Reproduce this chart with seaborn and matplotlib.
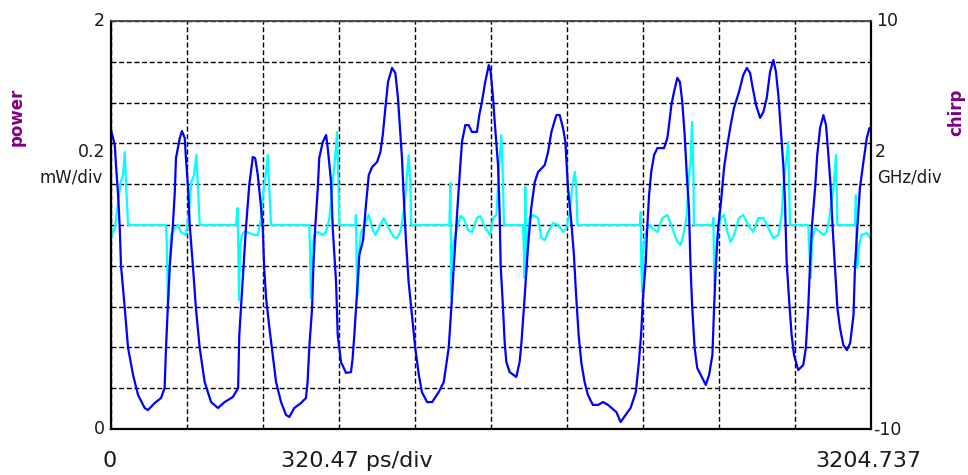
import matplotlib
matplotlib.use("Agg")
import matplotlib.pyplot as plt
import numpy as np
import seaborn as sns

# ---------------- data ----------------
t_power = [0, 16, 21, 30, 37, 42, 58, 72, 93, 114,
           142, 156, 184, 211, 226, 232, 240, 248, 261, 269,
           274, 290, 299, 311, 316, 325, 332, 346, 358, 374,
           395, 422, 451, 479, 514, 536, 541, 555, 569, 583,
           598, 608, 619, 633, 640, 646, 654, 668, 682, 696,
           717, 738, 752, 773, 801, 822, 829, 836, 848, 853,
           861, 872, 878, 893, 907, 914, 928, 935, 949, 956,
           970, 991, 1012, 1019, 1026, 1036, 1047, 1063, 1075, 1087,
           1101, 1122, 1136, 1146, 1157, 1168, 1185, 1199, 1210, 1227,
           1234, 1244, 1255, 1269, 1283, 1298, 1311, 1333, 1354, 1382,
           1403, 1424, 1435, 1445, 1459, 1473, 1480, 1494, 1508, 1522,
           1543, 1553, 1564, 1578, 1593, 1601, 1611, 1618, 1632, 1639,
           1643, 1653, 1660, 1667, 1681, 1709, 1723, 1730, 1744, 1758,
           1772, 1787, 1801, 1829, 1843, 1857, 1878, 1892, 1906, 1916,
           1927, 1941, 1952, 1962, 1972, 1983, 1997, 2011, 2032, 2054,
           2075, 2096, 2131, 2149, 2170, 2191, 2213, 2226, 2236, 2243,
           2255, 2261, 2269, 2278, 2290, 2304, 2332, 2346, 2353, 2363,
           2374, 2388, 2399, 2409, 2419, 2428, 2437, 2444, 2451, 2461,
           2472, 2487, 2508, 2522, 2536, 2543, 2550, 2560, 2571, 2585,
           2599, 2613, 2627, 2648, 2666, 2681, 2695, 2706, 2720, 2737,
           2751, 2765, 2779, 2793, 2804, 2814, 2824, 2835, 2842, 2849,
           2860, 2870, 2880, 2898, 2919, 2930, 2940, 2947, 2955, 2969,
           2978, 2990, 3004, 3015, 3025, 3035, 3043, 3053, 3063, 3074,
           3088, 3103, 3117, 3131, 3137, 3147, 3158, 3175, 3187, 3198, 3204.7]

power_mw = [1.466, 1.392, 1.294, 1.147, 0.985, 0.804, 0.593, 0.397, 0.265, 0.167,
            0.103, 0.093, 0.127, 0.152, 0.201, 0.397, 0.608, 0.804, 1.000, 1.162,
            1.328, 1.426, 1.461, 1.426, 1.328, 1.181, 1.000, 0.789, 0.593, 0.397,
            0.230, 0.132, 0.103, 0.132, 0.157, 0.201, 0.461, 0.721, 0.985, 1.196,
            1.333, 1.328, 1.245, 1.083, 0.985, 0.789, 0.642, 0.495, 0.363, 0.230,
            0.132, 0.069, 0.059, 0.103, 0.127, 0.152, 0.230, 0.397, 0.593, 0.789,
            0.985, 1.181, 1.328, 1.407, 1.441, 1.377, 1.211, 0.985, 0.721, 0.461,
            0.328, 0.275, 0.279, 0.348, 0.461, 0.642, 0.853, 0.926, 1.098, 1.245,
            1.284, 1.309, 1.358, 1.441, 1.574, 1.701, 1.770, 1.745, 1.623, 1.328,
            1.147, 0.917, 0.721, 0.559, 0.397, 0.265, 0.181, 0.132, 0.132, 0.181,
            0.230, 0.397, 0.593, 0.789, 1.049, 1.294, 1.407, 1.490, 1.490, 1.456,
            1.456, 1.539, 1.603, 1.701, 1.784, 1.750, 1.623, 1.505, 1.294, 1.049,
            0.804, 0.593, 0.426, 0.328, 0.279, 0.255, 0.328, 0.412, 0.642, 0.887,
            1.083, 1.211, 1.260, 1.294, 1.358, 1.456, 1.539, 1.539, 1.475, 1.407,
            1.181, 1.015, 0.853, 0.642, 0.461, 0.328, 0.230, 0.167, 0.118, 0.118,
            0.132, 0.118, 0.083, 0.034, 0.069, 0.103, 0.181, 0.328, 0.475, 0.642,
            0.819, 0.985, 1.147, 1.260, 1.343, 1.377, 1.377, 1.426, 1.490, 1.588,
            1.652, 1.721, 1.701, 1.603, 1.441, 1.245, 1.083, 0.789, 0.593, 0.397,
            0.299, 0.265, 0.216, 0.265, 0.363, 0.593, 0.789, 0.985, 1.098, 1.279,
            1.392, 1.490, 1.574, 1.652, 1.735, 1.770, 1.745, 1.672, 1.588, 1.525,
            1.554, 1.623, 1.750, 1.809, 1.750, 1.637, 1.475, 1.294, 1.113, 0.819,
            0.623, 0.461, 0.363, 0.289, 0.314, 0.397, 0.593, 0.789, 0.985, 1.181,
            1.343, 1.475, 1.539, 1.490, 1.343, 1.181, 0.985, 0.789, 0.593, 0.495,
            0.412, 0.387, 0.422, 0.559, 0.789, 0.985, 1.181, 1.328, 1.426, 1.475, 1.475]

t_chirp = [0, 8, 16, 30, 41, 51, 58, 63, 67, 72,
           232, 236, 240, 248, 253, 269, 283, 295, 316, 325,
           332, 339, 350, 360, 367, 374, 527, 534, 540, 544,
           552, 562, 583, 604, 619, 633, 642, 654, 661, 668,
           675, 836, 839, 843, 851, 857, 872, 893, 907, 921,
           935, 946, 953, 959, 963, 1030, 1033, 1036, 1040, 1047,
           1054, 1068, 1087, 1101, 1115, 1129, 1150, 1171, 1192, 1206,
           1220, 1230, 1239, 1248, 1255, 1262, 1266, 1427, 1431, 1435,
           1438, 1445, 1459, 1473, 1487, 1505, 1522, 1543, 1557, 1578,
           1599, 1611, 1625, 1635, 1646, 1653, 1657, 1737, 1741, 1744,
           1747, 1750, 1755, 1765, 1779, 1801, 1815, 1829, 1843, 1864,
           1885, 1906, 1920, 1935, 1944, 1956, 1962, 1967, 2231, 2234,
           2236, 2240, 2245, 2255, 2269, 2283, 2304, 2325, 2346, 2367,
           2388, 2402, 2416, 2428, 2437, 2444, 2450, 2456, 2458, 2536,
           2540, 2543, 2546, 2552, 2560, 2571, 2585, 2599, 2613, 2627,
           2648, 2666, 2687, 2708, 2729, 2751, 2772, 2793, 2814, 2828,
           2835, 2846, 2856, 2863, 2940, 2945, 2951, 2955, 2969, 2990,
           3004, 3018, 3029, 3039, 3049, 3057, 3063, 3137, 3141, 3144,
           3147, 3155, 3165, 3187, 3201, 3204.7]

chirp_ghz = [-0.64, -0.34, -0.15, 1.13, 2.11, 2.45, 3.58, 2.11, 1.13, 0,
             0, -1.13, -3.92, -1.96, -0.49, -0.15, 0, -0.34, -0.49, 0.34,
             1.13, 2.11, 2.45, 3.43, 1.81, 0, 0, 0.83, -3.68, -1.13,
             -0.49, -0.34, -0.39, -0.49, -0.49, 0.34, 1.62, 2.60, 3.43, 1.62,
             0, 0, -1.13, -3.58, -1.13, -0.49, -0.34, -0.49, -0.34, 0.34,
             2.11, 3.43, 4.56, 2.11, 0, 0, 0.49, -2.11, -3.43, -1.13,
             -0.34, 0, 0.49, -0.15, -0.49, -0.15, 0.34, -0.15, -0.59, -0.64,
             -0.34, 0.34, 1.13, 2.45, 3.43, 2.11, 0, 0, 2.06, -3.58,
             -1.47, -0.83, -0.15, 0.44, 0.34, -0.25, -0.34, 0.34, 0.44, -0.15,
             -0.49, 0.34, 0.49, 2.60, 4.41, 2.11, 0, 0, -1.13, -2.60,
             1.86, -2.21, -0.83, 0.34, 0.49, 0.34, -0.64, -0.74, -0.34, 0.10,
             0, -0.34, -0.15, 0.64, 1.81, 2.60, 1.81, 0, 0, 0.64,
             -1.96, -3.28, -1.13, -0.34, 0, -0.15, -0.34, 0.34, 0.49, -0.15,
             -0.83, -0.98, -0.34, 0.49, 2.45, 3.09, 5.05, 2.45, 0, 0,
             0.34, -2.11, -3.09, -1.13, -0.34, 0.34, 0.49, -0.34, -0.83, -0.49,
             0.34, 0.49, 0, -0.34, 0.34, 0.34, -0.15, -0.64, -0.49, 0.49,
             1.81, 3.09, 4.07, 0, 0, -1.32, -2.60, -0.83, -0.15, -0.34,
             -0.49, -0.34, 0.34, 1.13, 2.11, 3.43, 0, 0, 1.47, -1.13,
             -2.11, -0.98, -0.49, -0.39, -0.64, -0.7]

t_span_ps = 3204.737
power_range = (0, 2)
chirp_range = (-10, 10)
n_div = 10

left_labels = ["2", "0.2", "mW/div", "0"]
right_labels = ["10", "2", "GHz/div", "-10"]
bottom_labels = ["0", "320.47 ps/div", "3204.737"]
left_title = "power"
right_title = "chirp"

# ---------------- figure ----------------
sns.set_style("white")
plt.rcParams["font.family"] = ["DejaVu Sans"]

W, H = 968, 475
fig = plt.figure(figsize=(W / 100, H / 100), dpi=100)
fig.patch.set_facecolor("white")

rect = [111 / W, (H - 429) / H, 760 / W, 408 / H]

# bottom axes: chirp + grid
axc = fig.add_axes(rect)
axc.set_xlim(0, t_span_ps)
axc.set_ylim(*chirp_range)
axc.set_xticks(np.linspace(0, t_span_ps, n_div + 1))
axc.set_yticks(np.linspace(chirp_range[0], chirp_range[1], n_div + 1))
axc.tick_params(length=0, labelbottom=False, labelleft=False)
axc.grid(True, color="black", linestyle=(0, (3.6, 1.9)), linewidth=1.0)
for s in axc.spines.values():
    s.set_visible(False)
sns.lineplot(x=t_chirp, y=chirp_ghz, ax=axc, color="#00ffff", linewidth=1.6,
             estimator=None, sort=False, legend=False)
axc.set_xlabel("")
axc.set_ylabel("")

# top axes: power
axp = fig.add_axes(rect)
axp.patch.set_visible(False)
axp.set_xlim(0, t_span_ps)
axp.set_ylim(*power_range)
axp.set_xticks([])
axp.set_yticks([])
sns.lineplot(x=t_power, y=power_mw, ax=axp, color="#0000ff", linewidth=1.6,
             estimator=None, sort=False, legend=False)
axp.set_xlabel("")
axp.set_ylabel("")
for name, s in axp.spines.items():
    s.set_visible(True)
    s.set_color("black")
    s.set_linewidth(1.6)
axp.spines["top"].set_color("#444444")
axp.spines["top"].set_linewidth(1.3)


def px(x, y):
    return x / W, 1 - y / H


tc = "#1a1a1a"
fs_side = 12.5
fs_bottom = 16

fig.text(*px(105, 21), left_labels[0], ha="right", va="center", fontsize=fs_side, color=tc)
fig.text(*px(105, 152), left_labels[1], ha="right", va="center", fontsize=fs_side, color=tc)
fig.text(*px(103, 177), left_labels[2], ha="right", va="center", fontsize=fs_side - 0.5, color=tc)
fig.text(*px(105, 429), left_labels[3], ha="right", va="center", fontsize=fs_side, color=tc)

fig.text(*px(876, 21), right_labels[0], ha="left", va="center", fontsize=fs_side, color=tc)
fig.text(*px(875, 152), right_labels[1], ha="left", va="center", fontsize=fs_side, color=tc)
fig.text(*px(877, 177), right_labels[2], ha="left", va="center", fontsize=fs_side - 0.5, color=tc)
fig.text(*px(873, 430), right_labels[3], ha="left", va="center", fontsize=fs_side, color=tc)

fig.text(*px(110, 461), bottom_labels[0], ha="center", va="center", fontsize=fs_bottom, color=tc)
fig.text(*px(357, 461), bottom_labels[1], ha="center", va="center", fontsize=fs_bottom, color=tc)
fig.text(*px(868, 461), bottom_labels[2], ha="center", va="center", fontsize=fs_bottom, color=tc)

fig.text(*px(17, 117), left_title, ha="center", va="center", rotation=90,
         fontsize=12, fontweight="bold", color="#800080")
fig.text(*px(956, 112), right_title, ha="center", va="center", rotation=90,
         fontsize=12, fontweight="bold", color="#800080")

fig.savefig("out.png", dpi=100, facecolor="white")
